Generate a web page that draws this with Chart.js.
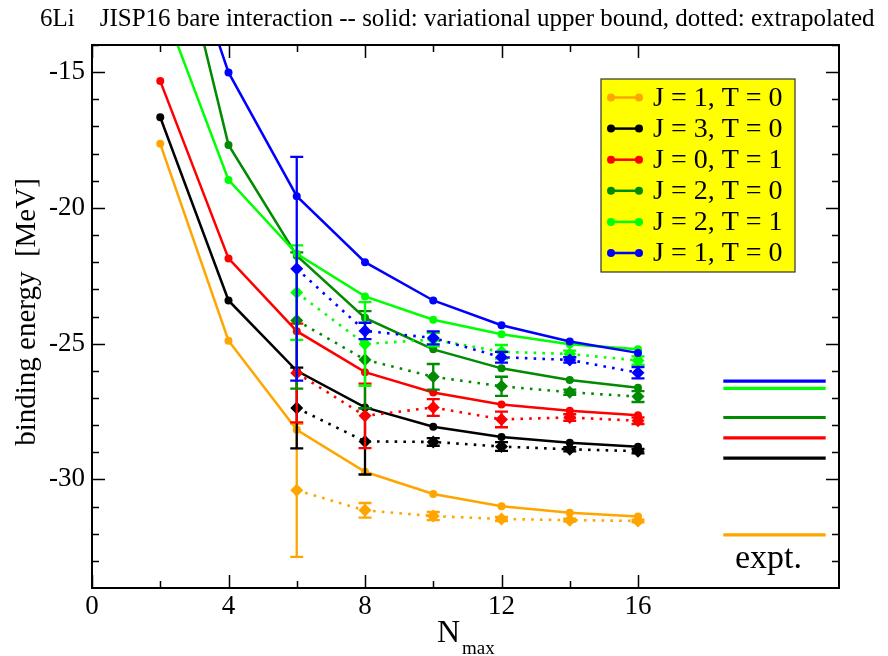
<!DOCTYPE html>
<html><head><meta charset="utf-8">
<script src="https://cdn.jsdelivr.net/npm/chart.js@4"></script>
<style>html,body{margin:0;padding:0;background:#fff}#wrap{width:888px;height:656px;position:relative}canvas{display:block}</style>
</head><body><div id="wrap"><canvas id="c" width="888" height="656"></canvas></div>
<script>
// ---- data ----
const nmax = [2, 4, 6, 8, 10, 12, 14, 16];
const nmaxExtrap = [6, 8, 10, 12, 14, 16];
const stateLabels = ["J = 1, T = 0", "J = 3, T = 0", "J = 0, T = 1", "J = 2, T = 0", "J = 2, T = 1", "J = 1, T = 0"];
const stateColors = ["#ffa500", "#000000", "#ff0000", "#008b00", "#00ff00", "#0000ff"];

const varOrange = [-17.64, -24.89, -28.17, -29.72, -30.54, -30.99, -31.23, -31.37];
const varBlack  = [-16.66, -23.41, -26.00, -27.35, -28.06, -28.44, -28.65, -28.80];
const varRed    = [-15.33, -21.86, -24.54, -26.05, -26.80, -27.24, -27.47, -27.64];
const varDGreen = [-7.33, -17.68, -21.76, -24.05, -25.21, -25.91, -26.34, -26.62];
const varLGreen = [-12.31, -18.97, -21.69, -23.26, -24.12, -24.65, -25.02, -25.21];
const varBlue   = [-7.58, -15.01, -19.57, -22.00, -23.41, -24.32, -24.92, -25.34];

const exOrange = [-30.40, -31.14, -31.35, -31.46, -31.50, -31.53];
const exBlack  = [-27.37, -28.60, -28.62, -28.79, -28.89, -28.96];
const exRed    = [-26.08, -27.66, -27.35, -27.79, -27.72, -27.84];
const exDGreen = [-24.15, -25.59, -26.22, -26.57, -26.79, -26.95];
const exLGreen = [-23.12, -25.01, -24.85, -25.30, -25.38, -25.62];
const exBlue   = [-22.24, -24.53, -24.79, -25.50, -25.60, -26.07];

const errOrange = [2.45, 0.27, 0.15, 0.08, 0.05, 0.05];
const errBlack  = [1.49, 1.22, 0.14, 0.16, 0.08, 0.08];
const errRed    = [1.82, 1.19, 0.31, 0.29, 0.12, 0.12];
const errDGreen = [2.51, 1.79, 0.47, 0.35, 0.10, 0.20];
const errLGreen = [1.74, 1.54, 0.25, 0.25, 0.12, 0.15];
const errBlue   = [4.12, 0.30, 0.24, 0.20, 0.10, 0.21];

const exptX = [18.5, 21.5];
const exptValues = [-32.04, -29.22, -28.47, -27.72, -26.65, -26.38];

const xTickLabels = [0, 4, 8, 12, 16];
const yTickLabels = [-30, -25, -20, -15];

const titleText = "6Li    JISP16 bare interaction -- solid: variational upper bound, dotted: extrapolated";
const yTitle = "binding energy  [MeV]";
const exptLabel = "expt.";

// ---- build datasets ----
const SERIF = "'Liberation Serif','Times New Roman',serif";
const varSets = [varOrange, varBlack, varRed, varDGreen, varLGreen, varBlue];
const exSets = [exOrange, exBlack, exRed, exDGreen, exLGreen, exBlue];
const errSets = [errOrange, errBlack, errRed, errDGreen, errLGreen, errBlue];

const datasets = [];
// drawn order: index 0 on top, so push in reverse of stacking (blue on top)
for (let i = stateLabels.length - 1; i >= 0; i--) {
  datasets.push({
    label: stateLabels[i] + " extrapolated",
    data: nmaxExtrap.map((x, k) => ({x, y: exSets[i][k]})),
    errors: errSets[i],
    borderColor: stateColors[i], backgroundColor: stateColors[i],
    borderWidth: 2.6, borderDash: [2.6, 6.2], borderCapStyle: 'butt',
    pointStyle: 'rectRot', pointRadius: 6.5, pointHoverRadius: 6.5, pointBorderWidth: 0,
    tension: 0, fill: false
  });
  datasets.push({
    label: stateLabels[i],
    legendEntry: true,
    data: nmax.map((x, k) => ({x, y: varSets[i][k]})),
    borderColor: stateColors[i], backgroundColor: stateColors[i],
    borderWidth: 2.5, pointStyle: 'circle', pointRadius: 4, pointHoverRadius: 4, pointBorderWidth: 0,
    tension: 0, fill: false
  });
}
for (let i = 0; i < exptValues.length; i++) {
  datasets.push({
    label: "expt " + stateLabels[i],
    data: exptX.map(x => ({x, y: exptValues[i]})),
    borderColor: stateColors[i], borderWidth: 3.2, pointRadius: 0, fill: false, tension: 0
  });
}

// ---- plugins ----
const errorBars = {
  id: 'errorBars',
  beforeDatasetDraw(chart, args) {
    const ds = chart.data.datasets[args.index];
    if (!ds.errors) return;
    const {ctx, chartArea: a} = chart;
    const x = chart.scales.x, y = chart.scales.y;
    ctx.save();
    ctx.beginPath(); ctx.rect(a.left, a.top, a.right - a.left, a.bottom - a.top); ctx.clip();
    ctx.strokeStyle = ds.borderColor; ctx.lineWidth = 2.3; ctx.setLineDash([]);
    ds.data.forEach((p, k) => {
      const e = ds.errors[k];
      const px = x.getPixelForValue(p.x);
      const y1 = y.getPixelForValue(p.y + e), y2 = y.getPixelForValue(p.y - e);
      ctx.beginPath();
      ctx.moveTo(px, y1); ctx.lineTo(px, y2);
      ctx.moveTo(px - 6.5, y1); ctx.lineTo(px + 6.5, y1);
      ctx.moveTo(px - 6.5, y2); ctx.lineTo(px + 6.5, y2);
      ctx.stroke();
    });
    ctx.restore();
  }
};

const decorations = {
  id: 'decorations',
  afterDatasetsDraw(chart) {
    const ctx = chart.ctx;
    // legend box
    const lx = 601, ly = 79, lw = 194, lh = 193;
    ctx.save();
    ctx.fillStyle = '#ffff00';
    ctx.fillRect(lx, ly, lw, lh);
    ctx.strokeStyle = '#333'; ctx.lineWidth = 1.2;
    ctx.strokeRect(lx, ly, lw, lh);
    const entries = chart.data.datasets.filter(d => d.legendEntry).reverse();
    entries.forEach((d, k) => {
      const cy = 97.5 + k * 31.1;
      ctx.strokeStyle = d.borderColor; ctx.fillStyle = d.borderColor; ctx.lineWidth = 2.5;
      ctx.beginPath(); ctx.moveTo(611, cy); ctx.lineTo(639, cy); ctx.stroke();
      [611, 639].forEach(cx => { ctx.beginPath(); ctx.arc(cx, cy, 4, 0, Math.PI * 2); ctx.fill(); });
      ctx.fillStyle = '#000';
      ctx.font = `28px ${SERIF}`;
      ctx.textBaseline = 'middle'; ctx.textAlign = 'left';
      ctx.fillText(d.label, 653, cy + 1);
    });
    ctx.restore();
  },
  afterDraw(chart) {
    const ctx = chart.ctx, a = chart.chartArea;
    const x = chart.scales.x, y = chart.scales.y;
    ctx.save();
    // ticks (inward, on all four sides)
    ctx.strokeStyle = '#000'; ctx.lineWidth = 1.5;
    ctx.beginPath();
    for (let v = 0; v <= 16; v += 2) {
      const px = Math.round(x.getPixelForValue(v)) + 0.5;
      const L = (v % 4 === 0) ? 13 : 7;
      ctx.moveTo(px, a.bottom); ctx.lineTo(px, a.bottom - L);
      ctx.moveTo(px, a.top); ctx.lineTo(px, a.top + L);
    }
    for (let v = -33; v <= -14; v += 1) {
      const py = Math.round(y.getPixelForValue(v)) + 0.5;
      const L = (v % 5 === 0) ? 13 : 7;
      ctx.moveTo(a.left, py); ctx.lineTo(a.left + L, py);
      ctx.moveTo(a.right, py); ctx.lineTo(a.right - L, py);
    }
    ctx.stroke();
    // frame
    ctx.lineWidth = 2;
    ctx.strokeRect(a.left, a.top, a.right - a.left, a.bottom - a.top);
    // texts
    ctx.fillStyle = '#000';
    ctx.textAlign = 'left'; ctx.textBaseline = 'alphabetic';
    ctx.font = `25px ${SERIF}`;
    ctx.fillText(titleText, 40, 26);
    ctx.font = `34px ${SERIF}`;
    ctx.fillText(exptLabel, 735, 568);
    // x title N_max
    ctx.font = `32px ${SERIF}`;
    ctx.fillText("N", 437, 642);
    ctx.font = `19px ${SERIF}`;
    ctx.fillText("max", 462, 654);
    // y title
    ctx.translate(27, 312);
    ctx.rotate(-Math.PI / 2);
    ctx.textAlign = 'center'; ctx.textBaseline = 'middle';
    ctx.font = `29px ${SERIF}`;
    ctx.fillText(yTitle, 0, 0);
    ctx.restore();
  }
};

new Chart(document.getElementById('c'), {
  type: 'line',
  data: {datasets},
  options: {
    responsive: false, animation: false, devicePixelRatio: 1,
    layout: {padding: {left: 0, right: 49, top: 45, bottom: 0}},
    plugins: {legend: {display: false}, tooltip: {enabled: false}, title: {display: false}},
    scales: {
      x: {
        type: 'linear', min: 0, max: 21.89,
        afterBuildTicks: s => { s.ticks = xTickLabels.map(v => ({value: v})); },
        afterFit: s => { s.height = 68; },
        grid: {display: false, drawTicks: false}, border: {display: false},
        ticks: {color: '#000', font: {family: SERIF, size: 27}, padding: 3, maxRotation: 0, autoSkip: false}
      },
      y: {
        type: 'linear', min: -34, max: -14,
        afterBuildTicks: s => { s.ticks = yTickLabels.map(v => ({value: v})); },
        afterFit: s => { s.width = 92; },
        grid: {display: false, drawTicks: false}, border: {display: false},
        ticks: {color: '#000', font: {family: SERIF, size: 27}, padding: 7, autoSkip: false}
      }
    }
  },
  plugins: [errorBars, decorations]
});
</script>
</body></html>
